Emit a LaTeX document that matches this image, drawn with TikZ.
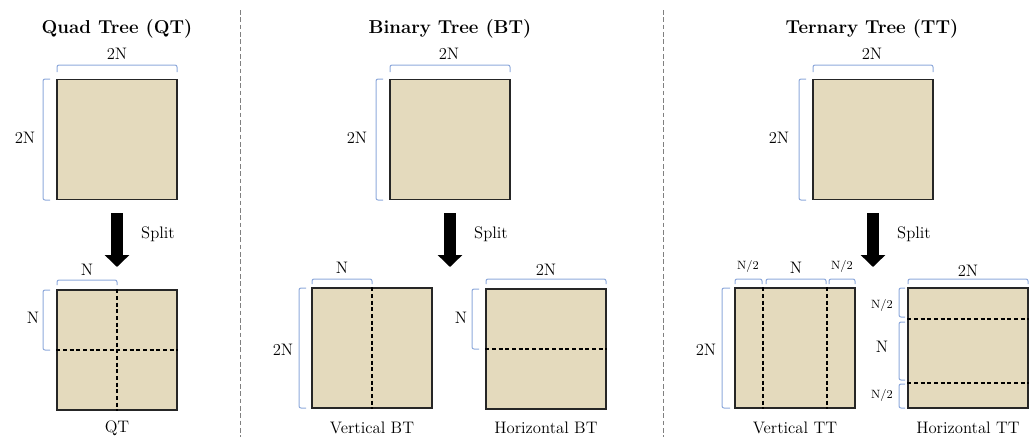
\documentclass[tikz,border=0pt]{standalone}
\usetikzlibrary{arrows.meta,calc}
\definecolor{beige}{RGB}{228,218,189}
\definecolor{brblue}{RGB}{142,169,219}
\begin{document}
\begin{tikzpicture}[x=0.75pt,y=-0.75pt,
 blk/.style={draw=black!85, fill=beige, line width=0.9pt, minimum width=90pt, minimum height=90pt, inner sep=0pt},
 cut/.style={line width=1.2pt, dash pattern=on 3pt off 2pt},
 brc/.style={draw=brblue, line width=0.75pt, rounded corners=1.5pt},
 sep/.style={draw=gray, line width=0.6pt, dash pattern=on 3.5pt off 2pt},
 lab/.style={font=\fontsize{12.5}{14}\selectfont, inner sep=0pt},
 sm/.style={font=\fontsize{9}{10}\selectfont, inner sep=0pt},
 ttl/.style={font=\bfseries\fontsize{14}{16}\selectfont, inner sep=0pt},
 splitarrow/.style={line width=9pt, -{Triangle[length=9pt,width=18pt]}}]
\useasboundingbox (0,0) rectangle (1036,437);

% separators
\coordinate (s1a) at (240,10); \coordinate (s1b) at (240,437);
\coordinate (s2a) at (663,10); \coordinate (s2b) at (663,437);
\draw[sep] (s1a) -- (s1b);
\draw[sep] (s2a) -- (s2b);

% ---------------- Quad Tree ----------------
\node[ttl] (qtt) at (117,29) {Quad Tree (QT)};
\node[blk] (qt0) at (117,139.5) {};
\draw[brc] (57,72) -- (57,65) -- (177,65) -- (177,72);
\node[lab] (qt0w) at (117,54) {2N};
\draw[brc] (50,79) -- (43,79) -- (43,200) -- (50,200);
\node[lab] (qt0h) at (25,138) {2N};
\coordinate (qa) at (117,213); \coordinate (qb) at (117,267);
\draw[splitarrow] (qa) -- (qb);
\node[lab] (qsplit) at (158,234) {Split};
\node[blk] (qt1) at (117,350) {};
\draw[cut] (qt1.north) -- (qt1.south);
\draw[cut] (qt1.west) -- (qt1.east);
\draw[brc] (57,285) -- (57,280) -- (117,280) -- (117,285);
\node[lab] (qt1w) at (87,270) {N};
\draw[brc] (50,290) -- (43,290) -- (43,350) -- (50,350);
\node[lab] (qt1h) at (33,318) {N};
\node[lab] (qtl) at (117,428) {QT};

% ---------------- Binary Tree ----------------
\node[ttl] (btt) at (450,29) {Binary Tree (BT)};
\node[blk] (bt0) at (450,139.5) {};
\draw[brc] (390,72) -- (390,65) -- (510,65) -- (510,72);
\node[lab] (bt0w) at (449,54) {2N};
\draw[brc] (383,79) -- (376,79) -- (376,200) -- (383,200);
\node[lab] (bt0h) at (357,138) {2N};
\coordinate (ba) at (450,213); \coordinate (bb) at (450,267);
\draw[splitarrow] (ba) -- (bb);
\node[lab] (bsplit) at (491,234) {Split};
% vertical BT
\node[blk] (bv) at (372,348) {};
\draw[cut] (bv.north) -- (bv.south);
\draw[brc] (312,284) -- (312,279) -- (372,279) -- (372,284);
\node[lab] (bvw) at (342,268) {N};
\draw[brc] (306,288) -- (299,288) -- (299,408) -- (306,408);
\node[lab] (bvh) at (283,350) {2N};
\node[lab] (bvl) at (372,428) {Vertical BT};
% horizontal BT
\node[blk] (bh) at (546,349) {};
\draw[cut] (bh.west) -- (bh.east);
\draw[brc] (486,284) -- (486,279) -- (606,279) -- (606,284);
\node[lab] (bhw) at (546,270) {2N};
\draw[brc] (479,289) -- (472,289) -- (472,349) -- (479,349);
\node[lab] (bhh) at (461,318) {N};
\node[lab] (bhl) at (546,428) {Horizontal BT};

% ---------------- Ternary Tree ----------------
\node[ttl] (ttt) at (872,29) {Ternary Tree (TT)};
\node[blk] (tt0) at (873,139.5) {};
\draw[brc] (813,72) -- (813,65) -- (933,65) -- (933,72);
\node[lab] (tt0w) at (872,54) {2N};
\draw[brc] (806,79) -- (799,79) -- (799,200) -- (806,200);
\node[lab] (tt0h) at (779,138) {2N};
\coordinate (ta) at (873,213); \coordinate (tb) at (873,267);
\draw[splitarrow] (ta) -- (tb);
\node[lab] (tsplit) at (914,234) {Split};
% vertical TT
\node[blk] (tv) at (795,348) {};
\draw[cut] ($(tv.north west)!0.235!(tv.north east)$) -- ($(tv.south west)!0.235!(tv.south east)$);
\draw[cut] ($(tv.north west)!0.765!(tv.north east)$) -- ($(tv.south west)!0.765!(tv.south east)$);
\draw[brc] (735,284) -- (735,279) -- (762,279) -- (762,284);
\draw[brc] (766,284) -- (766,279) -- (826,279) -- (826,284);
\draw[brc] (829,284) -- (829,279) -- (855,279) -- (855,284);
\node[sm] (tvw1) at (748,266) {N/2};
\node[lab] (tvw2) at (796,268) {N};
\node[sm] (tvw3) at (842,266) {N/2};
\draw[brc] (730,288) -- (722,288) -- (722,408) -- (730,408);
\node[lab] (tvh) at (706,350) {2N};
\node[lab] (tvl) at (795,428) {Vertical TT};
% horizontal TT
\node[blk] (th) at (968,348) {};
\draw[cut] ($(th.north west)!0.26!(th.south west)$) -- ($(th.north east)!0.26!(th.south east)$);
\draw[cut] ($(th.north west)!0.79!(th.south west)$) -- ($(th.north east)!0.79!(th.south east)$);
\draw[brc] (908,284) -- (908,279) -- (1028,279) -- (1028,284);
\node[lab] (thw) at (968,271) {2N};
\draw[brc] (905,288) -- (899,288) -- (899,317) -- (905,317);
\draw[brc] (905,322) -- (899,322) -- (899,380) -- (905,380);
\draw[brc] (905,384) -- (899,384) -- (899,408) -- (905,408);
\node[sm] (thh1) at (882,305) {N/2};
\node[lab] (thh2) at (882,347) {N};
\node[sm] (thh3) at (882,395) {N/2};
\node[lab] (thl) at (968,428) {Horizontal TT};
\end{tikzpicture}
\end{document}
